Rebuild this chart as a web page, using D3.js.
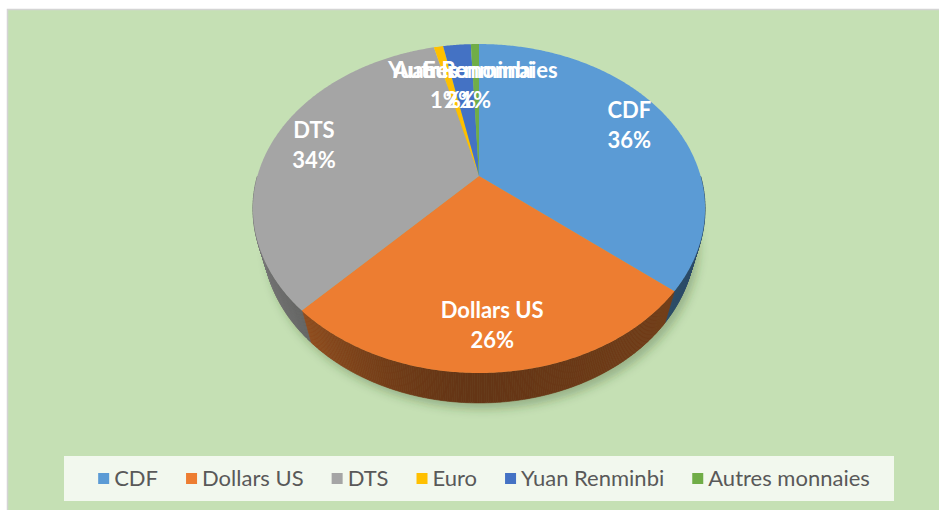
<!DOCTYPE html>
<html>
<head>
<meta charset="utf-8">
<script src="https://cdn.jsdelivr.net/npm/d3@7"></script>
<style>
  body { margin: 0; background: #fff; }
  svg { display: block; }
</style>
</head>
<body>
<svg id="chart"></svg>
<script>
// data
const categories = ["CDF", "Dollars US", "DTS", "Euro", "Yuan Renminbi", "Autres monnaies"];
const values = [36, 26, 34.1, 0.8, 2.4, 0.7];
const colors = ["#5B9BD5", "#ED7D31", "#A5A5A5", "#FFC000", "#4472C4", "#70AD47"];

const width = 939, height = 510;
const svg = d3.select("#chart").attr("width", width).attr("height", height);

// chart area background
svg.append("rect")
  .attr("x", 7.5).attr("y", 9.5)
  .attr("width", width).attr("height", height)
  .attr("fill", "#C5E0B4")
  .attr("stroke", "#D4D4D4").attr("stroke-width", 1.5);

// 3d pie projection (perspective camera looking down on a disc)
const cx = 479, cy = 176;     // apex of the pie on screen
const scale = 221.6;          // screen size of radius
const rho = 0.282;            // radius / camera distance
const tilt = 45.5 * Math.PI / 180;
const depth = 0.219;          // thickness, in radii
const sinT = Math.sin(tilt), cosT = Math.cos(tilt);

// angle clockwise from the far (top) point, r in radii, z up
function project(a, r, z) {
  const u = r * Math.sin(a), v = -r * Math.cos(a);
  const Y = v * sinT - z * cosT;
  const zn = 1 - rho * (v * cosT + z * sinT);
  return [cx + scale * u / zn, cy + scale * Y / zn];
}

const pie = d3.pie().sort(null).value(d => d)(values);
const total = d3.sum(values);
const pct = d3.format(".0%");
const line = d3.line();
const step = Math.PI / 360;

function arcPoints(a0, a1, r, z) {
  const n = Math.max(2, Math.ceil((a1 - a0) / step));
  return d3.range(n + 1).map(i => project(a0 + (a1 - a0) * i / n, r, z));
}

// soft shadow under the pie
const defs = svg.append("defs");
defs.append("filter").attr("id", "blur")
  .attr("x", "-20%").attr("y", "-20%").attr("width", "140%").attr("height", "140%")
  .append("feGaussianBlur").attr("stdDeviation", 5);

svg.append("path")
  .attr("d", line(arcPoints(0, 2 * Math.PI, 1, -depth)) + "Z")
  .attr("transform", "translate(4,6)")
  .attr("fill", "rgba(40,70,30,0.3)")
  .attr("filter", "url(#blur)");

// side shading: lighter on the left, darker in front and right
function shade(color, a) {
  const sn = Math.sin(a);
  const f = sn < 0 ? 0.42 + 0.33 * Math.pow(-sn, 1.5) : 0.42 + 0.08 * sn;
  const c = d3.rgb(color);
  return d3.rgb(c.r * f, c.g * f, c.b * f).formatHex();
}

const sides = svg.append("g");
pie.forEach((d, i) => {
  const a0 = Math.max(d.startAngle, Math.PI / 2);
  const a1 = Math.min(d.endAngle, 3 * Math.PI / 2);
  if (a1 <= a0) return;
  const n = Math.max(1, Math.ceil((a1 - a0) / step));
  for (let k = 0; k < n; k++) {
    const b0 = a0 + (a1 - a0) * k / n, b1 = a0 + (a1 - a0) * (k + 1) / n;
    const col = shade(colors[i], (b0 + b1) / 2);
    sides.append("path")
      .attr("d", line([project(b0, 1, 0), project(b1, 1, 0), project(b1, 1, -depth), project(b0, 1, -depth)]) + "Z")
      .attr("fill", col)
      .attr("stroke", col).attr("stroke-width", 0.6);
  }
});

// top faces
svg.append("g").selectAll("path")
  .data(pie)
  .join("path")
  .attr("d", d => line([project(0, 0, 0)].concat(arcPoints(d.startAngle, d.endAngle, 1, 0))) + "Z")
  .attr("fill", (d, i) => colors[i]);

// data labels (the small top slices overlap, as in the original)
const pieTop = project(0, 1, 0)[1];
const labels = svg.append("g")
  .attr("font-family", "Lato, 'Open Sans', sans-serif")
  .attr("font-weight", "bold")
  .attr("font-size", 22)
  .attr("fill", "#fff")
  .attr("text-anchor", "middle");

pie.forEach((d, i) => {
  const p = project((d.startAngle + d.endAngle) / 2, 0.8, 0);
  const y = Math.max(p[1], pieTop + 41);
  const t = labels.append("text").attr("x", p[0]).attr("y", y - 7.5);
  t.append("tspan").attr("x", p[0]).text(categories[i]);
  t.append("tspan").attr("x", p[0]).attr("dy", 30).text(pct(d.value / total));
});

// legend
svg.append("rect")
  .attr("x", 64).attr("y", 456)
  .attr("width", 830).attr("height", 45)
  .attr("fill", "#F2F8EE");

const legend = svg.append("g")
  .attr("font-family", "Lato, 'Open Sans', sans-serif")
  .attr("font-size", 22)
  .attr("fill", "#595959");

const items = categories.map((c, i) => {
  const g = legend.append("g");
  g.append("rect").attr("y", 473).attr("width", 11).attr("height", 11).attr("fill", colors[i]);
  const t = g.append("text").attr("x", 16).attr("y", 486).text(c);
  return { g, w: 16 + t.node().getComputedTextLength() };
});
const gap = 28;
const totalW = d3.sum(items, d => d.w) + gap * (items.length - 1);
let x = 484 - totalW / 2;
items.forEach(it => {
  it.g.attr("transform", `translate(${x},0)`);
  x += it.w + gap;
});
</script>
</body>
</html>
